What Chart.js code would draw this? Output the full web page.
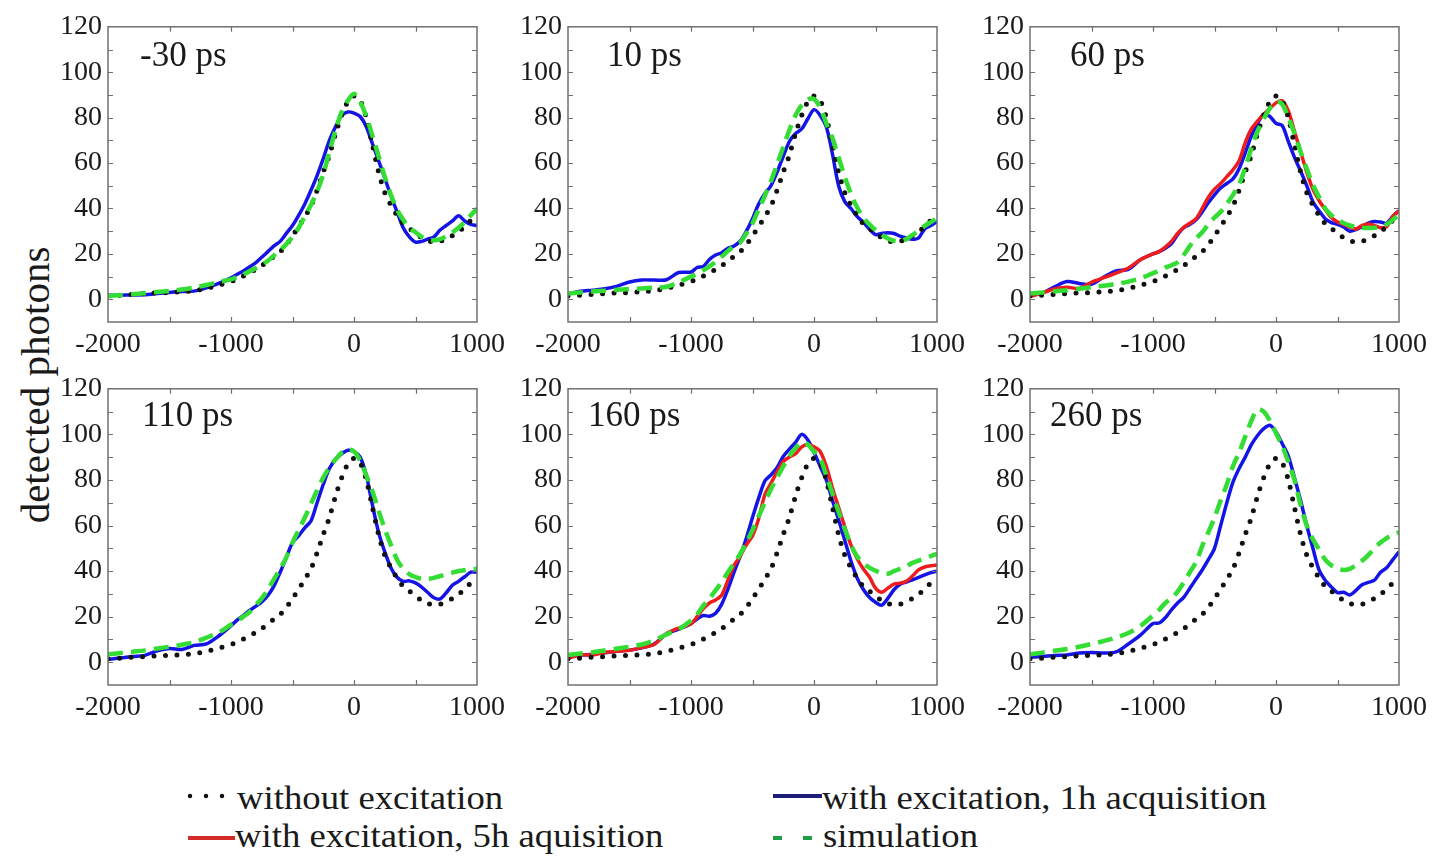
<!DOCTYPE html>
<html>
<head>
<meta charset="utf-8">
<script src="https://cdn.jsdelivr.net/npm/chart.js@4"></script>
<style>
  body { margin: 0; background: #fff; width: 1435px; height: 856px; position: relative; overflow: hidden;
         font-family: 'Liberation Serif', 'Times New Roman', serif; color: #1a1a1a; }
  canvas { position: absolute; }
  #ytitle { position: absolute; left: 35px; top: 385px; font-size: 41px; line-height: 1; white-space: nowrap;
            transform: translate(-50%, -50%) rotate(-90deg); }
  .leg { position: absolute; font-size: 34px; line-height: 1; white-space: nowrap;
         transform: scaleX(1.08); transform-origin: left top; }
</style>
</head>
<body>
<div id="ytitle">detected photons</div>

<svg width="1435" height="856" style="position:absolute;left:0;top:0">
  <line x1="190" y1="796" x2="223" y2="796" stroke="#111" stroke-width="4.5" stroke-dasharray="0 16" stroke-linecap="round"/>
  <line x1="188" y1="838" x2="235" y2="838" stroke="#d42a2a" stroke-width="4"/>
  <line x1="773" y1="796" x2="822" y2="796" stroke="#1e1e78" stroke-width="4"/>
  <line x1="773" y1="838" x2="782" y2="838" stroke="#1f9e45" stroke-width="4"/>
  <line x1="803" y1="838" x2="812" y2="838" stroke="#1f9e45" stroke-width="4"/>
</svg>
<div class="leg" style="left:237px;top:781px">without excitation</div>
<div class="leg" style="left:235px;top:819px">with excitation, 5h aquisition</div>
<div class="leg" style="left:822px;top:781px">with excitation, 1h acquisition</div>
<div class="leg" style="left:823px;top:819px">simulation</div>

<script>
// delay (x axis), coarse before -1000, finer afterwards
const xs = [-2000,-1900,-1800,-1700,-1600,-1500,-1400,-1300,-1200,-1100,
  -1000,-950,-900,-850,-800,-750,-700,-650,-600,-550,
  -500,-450,-400,-350,-300,-250,-200,-150,-100,-50,
  0,50,100,150,200,250,300,350,400,450,
  500,550,600,650,700,750,800,850,900,950,1000];

const xTicks = [-2000, -1000, 0, 1000];
const yTicks = [0, 20, 40, 60, 80, 100, 120];
const xMinor = [-1500, -1000, -500, 0, 500];
const yMinor = [0, 10, 20, 30, 40, 50, 60, 70, 80, 90, 100, 110];

// without excitation (same in every panel)
const noExc = [1.5,1.8,2.2,2.5,2.8,3,3.3,3.8,4.8,6.2, 7.8,8.9,10.2,11.6,13.1,14.8,16.8,19,21,24,
  28,32,36.4,41,48,56,63.5,73,81,87, 89.5,87.5,80,68,56,47,41.5,37,33.3,31.2,
  29.3,27,25.8,25.2,25.5,26.6,28,29.8,32,34.8, 37];

// -30 ps
const blue30 = [1.8,1.8,1.9,2,2.5,3,3.4,3.6,5,7, 9.5,11,12.5,14.2,16,18.5,21,23.5,25.5,29,
  32.5,37,42,48,54.5,62,70,76,81,82.5, 82,80.5,76,68.5,61,53.5,45.5,38.5,31.5,27.5,
  25.2,25.5,26.5,27.5,30.5,32.5,34.5,36.8,34.5,33, 32.4];
const sim30 = [1.5,1.8,2.2,2.7,3.2,3.7,4.3,5.2,6.3,7.6, 8.8,9.8,11,12.3,13.7,15.2,17,19.3,21.6,24.3,
  27.5,31.5,36.5,41.5,47.5,55,65,74.5,82.5,87.5, 90.5,87,80.5,72,63,54,46,39.5,35,31.5,
  29.5,27.5,26.3,26,26.5,27.8,29.5,31.5,34,37, 40];

// 10 ps
const blue10 = [2.3,3.5,4,4.6,5.8,7.6,8.5,8.5,8.6,11.8, 12,14,14.5,17.5,19.5,20.5,22.5,23.5,25.6,30,
  35.5,42,46.5,50,56,63,69.5,73,75,79.5, 83.5,81,76,64,50,43,40,36.5,34,31,
  28.5,29,29.3,29,27.8,27,26.4,27,31,32.5, 34.3];
const sim10 = [2.6,3,3.4,3.8,4.2,4.5,4.8,5.1,5.5,7.5, 10,11.2,12.8,14.5,16.5,18.8,21.2,23.5,25,29,
  33.5,39.5,45.5,52,59.5,67,74.5,81,85.5,88, 88.2,84.5,77.5,71,62.5,54,46.5,40.5,36,33,
  30.5,28.5,26.8,25.8,25.6,26.5,28.3,30.3,32.3,34, 35.7];

// 60 ps
const blue60 = [1.9,2.8,5.5,7.8,7,6.6,9.8,12.5,13.2,17.5, 20,21,22.5,24.5,28.5,31.5,33,35,38.5,42.5,
  46,49,51,53,57.5,64.5,72,77.5,81.5,80.5, 77.5,76.5,69.5,62.5,56.5,50,43,39,35.5,33.8,
  33,31.8,30,30.7,32,33.5,34.3,34,33.5,36.5, 39];
const red60 = [1.2,2.8,4.5,5.3,4.8,7.5,9.5,11.5,13.8,17.5, 20,21,23,25.5,29,31.7,33.5,35.5,40,45,
  48.5,51,54,57,61,69,75,78.5,81.5,84, 86.5,87.5,83,74,65,56,48.5,43.5,39.5,36,
  34,33,31.8,31,32.5,33.2,32.5,31.5,32,36.5, 39];
const sim60 = [2.6,3,3.5,4,4.6,5.3,6,6.8,7.8,9.3, 11.5,12.6,14,15,16.3,19.5,23.5,26.8,29.5,33,
  36,38.5,42,46,50.5,58,66.5,74,79.5,84, 87,86,80,73,65,57.5,50.5,45,40,37,
  35,33.6,32.5,31.8,31.5,31.4,31.5,32,33,35, 37.2];

// 110 ps
const blue110 = [1.3,1.8,2.5,3,5,6,5.6,7.4,8,11.5, 16,18.5,20.5,22.7,24.5,26.5,29.3,33.5,39.5,46,
  52.5,55.5,59,62,70,78,85,89,91.5,93, 92.5,90,82,69,57,48.5,41.5,37.3,35.5,35.7,
  34.8,33,30.6,28.3,27.8,30.5,33.8,35.5,37.5,39.5, 39.5];
const sim110 = [3.5,4,4.6,5.2,6,6.8,7.7,8.8,10.8,13, 16.5,18,20,22,25,28,32,36.5,41,46,
  52.5,58,63.5,69.5,75.5,81,85.5,89,92,93.5, 92.5,88.5,82,75,66.5,58.5,51.5,45,41,38.6,
  37.3,36.6,36.6,37,37.8,38.6,39.3,40,40.4,40.7, 41];

// 160 ps
const blue160 = [2.2,3,3.5,4.2,4.8,5.3,6.3,8,12.5,14.5, 16.9,19,20.5,20.2,21.5,25.5,32,39.5,46.5,54.5,
  63.5,72,79.5,82.2,85.5,90.3,93.5,96.5,100,97.5, 92.2,86,80,71,62.5,53.5,44.5,37,32,28.5,
  26.3,25,28,31.8,34.2,35.2,36.2,37.2,38.3,39.3, 40];
const red160 = [1.7,3.2,3.2,4.3,4.8,5.2,6.5,7.8,12.5,15, 16.9,20,23.5,26,27.3,29.5,36,42.5,46.5,51.5,
  55.5,63,73.5,78.5,83.5,88,90,91.5,94.5,95.5, 94.5,92.5,86,76.5,68,59.5,51.5,45.5,41,37.5,
  32.5,30.7,32.5,34.3,34.7,35.5,37.8,40.5,41.8,42.3, 42.7];
const sim160 = [3.2,3.8,4.4,5.1,6,6.8,7.8,9.5,12.2,14.5, 18.3,21,24.8,28,31.5,35.3,39.5,43.5,47.5,52.5,
  58,64,70,76,81,86,90.5,94,96.5,95.5, 92.5,89.5,82,74,66,58.5,51.5,46.5,43.5,41.5,
  40.2,39,38.8,40,41,42,43.6,44.6,45.6,46.6, 47.6];

// 260 ps
const blue260 = [2.2,2.5,3,3.2,4,4.3,4,4.5,8,12, 17,17.2,19.5,23,26,28.5,32.5,36.5,40.5,45,
  50,60,70,79,85,90,95.5,99.5,102.5,104, 101,96,90.5,81,71,60,50,40.5,36,33,
  30.5,30.7,29.5,31.5,34,35,36,39.5,41.5,45, 48.5];
const sim260 = [3.5,4.2,5,5.8,6.8,8,9.3,10.8,12.8,16, 20.5,23,26,28,31,35,39.5,44,51,57,
  63.5,71,78,86,92,99,106,111,110,106, 100.5,95,88,80,69,60,54,49.5,45,42.5,
  41,40.5,41,42.5,44.5,47,50,52.5,54.5,56, 57];

const panelLabels = ['-30 ps', '10 ps', '60 ps', '110 ps', '160 ps', '260 ps'];

const FONT = "'Liberation Serif', 'Times New Roman', serif";
const colLeft = [108, 568, 1030];
const rowTop = [24, 386];
const plotW = 369;
const plotH = [298, 299];
const labelDx = [32, 39, 40, 34, 20, 20];
const labelDy = [39, 39, 39, 37, 37, 37];

const panels = [
  { blue: blue30, red: null, sim: sim30 },
  { blue: blue10, red: null, sim: sim10 },
  { blue: blue60, red: red60, sim: sim60 },
  { blue: blue110, red: null, sim: sim110 },
  { blue: blue160, red: red160, sim: sim160 },
  { blue: blue260, red: null, sim: sim260 }
];

function pts(vals) {
  return xs.map((x, i) => ({ x: x, y: vals[i] }));
}

// box, inward ticks and the panel label
const framePlugin = {
  id: 'frame',
  afterDatasetsDraw(chart, args, opts) {
    const ctx = chart.ctx;
    const a = chart.chartArea;
    const sx = chart.scales.x, sy = chart.scales.y;
    ctx.save();
    ctx.strokeStyle = '#707070';
    ctx.lineWidth = 1.5;
    ctx.strokeRect(a.left, a.top, a.right - a.left, a.bottom - a.top);
    ctx.lineWidth = 1.2;
    ctx.beginPath();
    xMinor.forEach(v => {
      const px = Math.round(sx.getPixelForValue(v)) + 0.5;
      ctx.moveTo(px, a.bottom); ctx.lineTo(px, a.bottom - 5);
      ctx.moveTo(px, a.top); ctx.lineTo(px, a.top + 5);
    });
    yMinor.forEach(v => {
      const py = Math.round(sy.getPixelForValue(v)) + 0.5;
      ctx.moveTo(a.left, py); ctx.lineTo(a.left + 5, py);
      ctx.moveTo(a.right, py); ctx.lineTo(a.right - 5, py);
    });
    ctx.stroke();
    ctx.fillStyle = '#1a1a1a';
    ctx.font = '35px ' + FONT;
    ctx.textBaseline = 'alphabetic';
    ctx.fillText(opts.label, a.left + opts.dx, a.top + opts.dy);
    ctx.restore();
  }
};

panels.forEach((p, i) => {
  const col = i % 3, row = Math.floor(i / 3);
  const padL = 90, padT = 20, padR = 34, padB = 50;
  const cv = document.createElement('canvas');
  cv.width = padL + plotW + padR;
  cv.height = padT + plotH[row] + padB;
  cv.style.left = (colLeft[col] - padL) + 'px';
  cv.style.top = (rowTop[row] - padT) + 'px';
  document.body.appendChild(cv);

  const datasets = [
    { data: pts(p.sim), borderColor: '#33dd33', borderWidth: 4.5, borderDash: [15, 8] },
    { data: pts(noExc), borderColor: '#111111', borderWidth: 5, borderDash: [0, 11.5], borderCapStyle: 'round' }
  ];
  if (p.red) datasets.push({ data: pts(p.red), borderColor: '#ee1c1c', borderWidth: 3.5 });
  datasets.push({ data: pts(p.blue), borderColor: '#1414e6', borderWidth: 3.5 });
  datasets.forEach(d => { d.pointRadius = 0; d.fill = false; d.tension = 0.3; });

  new Chart(cv.getContext('2d'), {
    type: 'line',
    data: { datasets: datasets },
    options: {
      responsive: false,
      animation: false,
      devicePixelRatio: 1,
      layout: { padding: { left: 0, top: padT, right: padR, bottom: 0 } },
      plugins: {
        legend: { display: false },
        tooltip: { enabled: false },
        frame: { label: panelLabels[i], dx: labelDx[i], dy: labelDy[i] }
      },
      scales: {
        x: {
          type: 'linear', min: -2000, max: 1000,
          afterBuildTicks: s => { s.ticks = xTicks.map(v => ({ value: v })); },
          afterFit: s => { s.height = padB; },
          grid: { display: false, drawTicks: false },
          border: { display: false },
          ticks: { font: { family: FONT, size: 28 }, color: '#1a1a1a', padding: 6, maxRotation: 0, autoSkip: false,
                   callback: v => String(v) }
        },
        y: {
          type: 'linear', min: -10, max: 120,
          afterBuildTicks: s => { s.ticks = yTicks.map(v => ({ value: v })); },
          afterFit: s => { s.width = padL; },
          grid: { display: false, drawTicks: false },
          border: { display: false },
          ticks: { font: { family: FONT, size: 28 }, color: '#1a1a1a', padding: 6, autoSkip: false,
                   callback: v => String(v) }
        }
      }
    },
    plugins: [framePlugin]
  });
});
</script>
</body>
</html>
